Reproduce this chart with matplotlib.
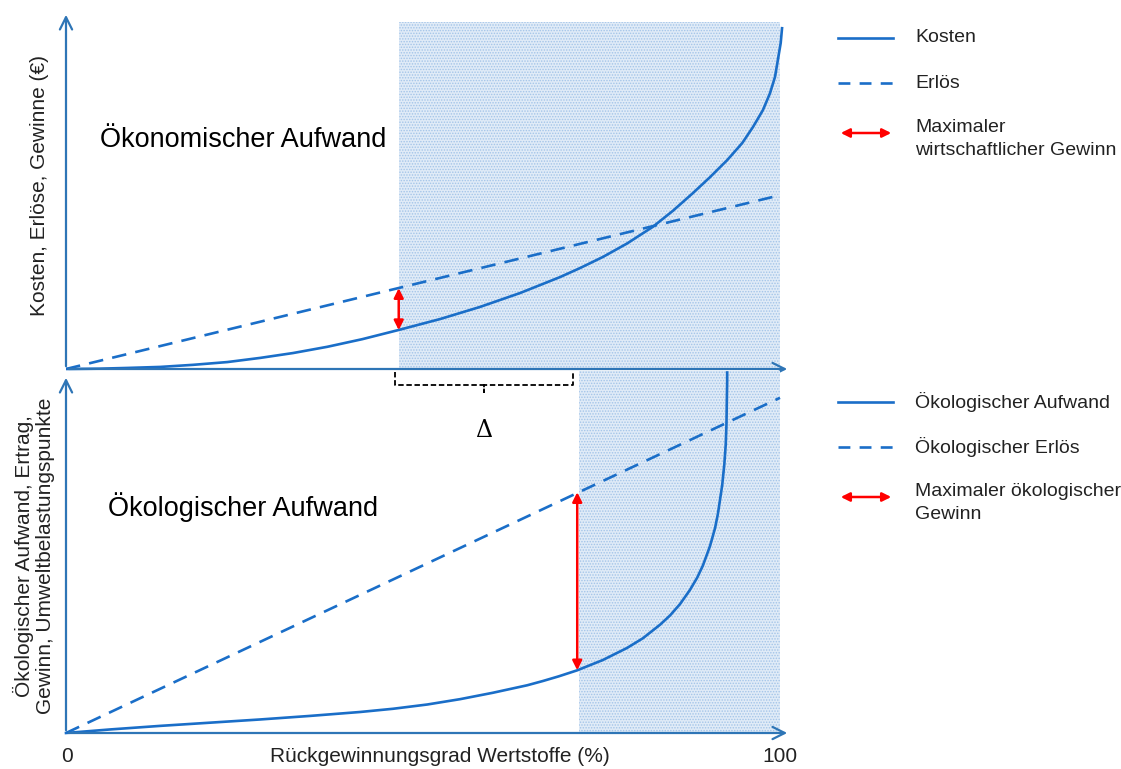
import matplotlib
matplotlib.use("Agg")
import matplotlib.pyplot as plt
from matplotlib.lines import Line2D
from matplotlib.patches import FancyArrowPatch

plt.rcParams['font.family'] = ['Liberation Sans', 'DejaVu Sans']
plt.rcParams['hatch.linewidth'] = 0.7

# --- Daten ---
# oben: wirtschaftlich
kosten_x = [0, 4.8, 8.5, 13.2, 17.8, 22.6, 27.2, 31.8, 36.6, 41.5, 46.5, 52.4, 58.0, 63.6,
            69.2, 72.0, 75.2, 78.6, 82.2, 85.0, 87.8, 90.2, 92.6, 94.7, 96.2, 97.6, 98.6,
            99.3, 99.7, 100.1, 100.3]
kosten_y = [0, 0.1, 0.3, 0.6, 1.2, 2.0, 3.2, 4.6, 6.4, 8.6, 11.2, 14.4, 17.9, 21.9,
            26.5, 29.1, 32.3, 36.2, 41.0, 45.6, 50.7, 55.3, 60.2, 65.1, 69.7, 74.6, 79.5,
            84.2, 89.1, 94.0, 98.6]
erloes_x = [0, 100]
erloes_y = [0, 50.1]
shade_oben = (46.6, 100)
gewinn_oben_x = 46.6

# unten: ökologisch
oeko_aufwand_x = [0, 6.2, 13.2, 20.2, 27.2, 34.2, 41.2, 45.8, 50.6, 55.2, 59.8, 64.6, 66.8,
                  69.0, 71.6, 75.2, 78.6, 80.8, 83.2, 84.6, 86.0, 87.4, 88.4, 89.2, 90.2,
                  90.9, 91.3, 91.9, 92.2, 92.4, 92.5, 92.55, 92.6, 92.6]
oeko_aufwand_y = [0, 1.0, 2.0, 2.9, 3.8, 4.8, 5.9, 6.8, 8.0, 9.5, 11.3, 13.4, 14.6,
                  15.9, 17.6, 20.5, 23.9, 26.6, 30.4, 33.0, 36.2, 40.2, 43.6, 47.0, 52.5,
                  57.5, 61.5, 69.5, 75.4, 81.0, 86.6, 93.0, 98.6, 101.2]
oeko_erloes_x = [0, 100]
oeko_erloes_y = [0, 94.1]
shade_unten = (71.8, 100)
gewinn_unten_x = 71.6

blau = '#1a6ec8'
achse = '#2e75b6'
text_farbe = '#222222'
dash = (0, (5.5, 3.5))

W, H = 1121, 769
fig = plt.figure(figsize=(W / 100, H / 100), dpi=100)


def panel(top_px, bottom_px, ymax):
    ax = fig.add_axes([66 / W, (H - bottom_px) / H, (790 - 66) / W, (bottom_px - top_px) / H])
    ax.set_xlim(0, 101.4)
    ax.set_ylim(0, ymax)
    for s in ax.spines.values():
        s.set_visible(False)
    ax.set_xticks([])
    ax.set_yticks([])
    ax.patch.set_alpha(0)
    # Achsen mit offenen Pfeilspitzen
    ax.annotate('', xy=(1, 0), xytext=(0, 0), xycoords='axes fraction',
                arrowprops=dict(arrowstyle='->', color=achse, lw=1.6, mutation_scale=22))
    ax.annotate('', xy=(0, 1), xytext=(0, 0), xycoords='axes fraction',
                arrowprops=dict(arrowstyle='->', color=achse, lw=1.6, mutation_scale=22))
    return ax


def schraffur(ax, x0, x1, ytop):
    ax.fill_between([x0, x1], 0, ytop, facecolor='#e0ebf7', edgecolor='#a3c4e8',
                    hatch='......', linewidth=0, zorder=0, clip_on=False)


def pfeil(ax, x, y0, y1):
    ax.annotate('', xy=(x, y1), xytext=(x, y0),
                arrowprops=dict(arrowstyle='<|-|>', color='#ff0000', lw=1.8,
                                mutation_scale=14, shrinkA=0, shrinkB=0))


# Oberes Diagramm
ax1 = panel(12, 369, 102.9)
schraffur(ax1, shade_oben[0], shade_oben[1], 100)
ax1.plot(kosten_x, kosten_y, color=blau, lw=1.9, solid_capstyle='butt', clip_on=False)
ax1.plot(erloes_x, erloes_y, color=blau, lw=1.9, linestyle=dash)
pfeil(ax1, gewinn_oben_x, 11.2, 23.3)
ax1.text(4.8, 66.0, 'Ökonomischer Aufwand', fontsize=19.5, va='center', ha='left')

# Delta-Klammer unter der Achse
bx = [46.1, 46.1, 58.5, 58.5, 58.5, 71.0, 71.0]
by = [-0.9, -4.6, -4.6, -6.6, -4.6, -4.6, -0.9]
ax1.plot(bx, by, color='black', lw=1.3, linestyle=(0, (3, 1.5)), clip_on=False)
ax1.text(58.5, -17.6, 'Δ', fontsize=17, ha='center', va='center', family=['DejaVu Serif'])

# Unteres Diagramm
ax2 = panel(375, 733, 100.5)
schraffur(ax2, shade_unten[0], shade_unten[1], 101.7)
ax2.plot(oeko_aufwand_x, oeko_aufwand_y, color=blau, lw=1.9, clip_on=False)
ax2.plot(oeko_erloes_x, oeko_erloes_y, color=blau, lw=1.9, linestyle=dash)
pfeil(ax2, gewinn_unten_x, 17.6, 67.6)
ax2.text(5.9, 63.4, 'Ökologischer Aufwand', fontsize=19.5, va='center', ha='left')

# Achsenbeschriftungen
fs = 15
fig.text(40 / W, 1 - 186 / H, 'Kosten, Erlöse, Gewinne (€)', rotation=90,
         ha='center', va='center', fontsize=fs, color=text_farbe)
fig.text(34 / W, 1 - 556 / H, 'Ökologischer Aufwand, Ertrag,\nGewinn, Umweltbelastungspunkte',
         rotation=90, ha='center', va='center', fontsize=fs, color=text_farbe, linespacing=1.15)
fig.text(440 / W, 1 - 757 / H, 'Rückgewinnungsgrad Wertstoffe (%)', ha='center', va='center',
         fontsize=fs, color=text_farbe)
fig.text(67 / W, 1 - 757 / H, '0', ha='center', va='center', fontsize=fs, color=text_farbe)
fig.text(780 / W, 1 - 757 / H, '100', ha='center', va='center', fontsize=fs, color=text_farbe)


# Legenden (manuell)
def legende(y_linie, y_dash, y_pfeil, texte):
    fig.add_artist(Line2D([838 / W, 893 / W], [1 - y_linie / H] * 2, color=blau, lw=1.9))
    fig.add_artist(Line2D([838 / W, 895 / W], [1 - y_dash / H] * 2, color=blau, lw=1.9,
                          linestyle=(0, (4.5, 3.5))))
    fig.add_artist(FancyArrowPatch(
        (838 / W, 1 - y_pfeil / H), (894 / W, 1 - y_pfeil / H), transform=fig.transFigure,
        arrowstyle='<|-|>', color='#ff0000', lw=1.8, mutation_scale=13))
    fig.text(915 / W, 1 - y_linie / H, texte[0], va='center', fontsize=14, color=text_farbe)
    fig.text(915 / W, 1 - y_dash / H, texte[1], va='center', fontsize=14, color=text_farbe)
    fig.text(915 / W, 1 - (y_pfeil + 6) / H, texte[2], va='center', fontsize=14,
             color=text_farbe, linespacing=1.45)


legende(38, 83, 133, ['Kosten', 'Erlös', 'Maximaler\nwirtschaftlicher Gewinn'])
legende(402, 447, 497, ['Ökologischer Aufwand', 'Ökologischer Erlös', 'Maximaler ökologischer\nGewinn'])

fig.savefig('out.png', dpi=100)
